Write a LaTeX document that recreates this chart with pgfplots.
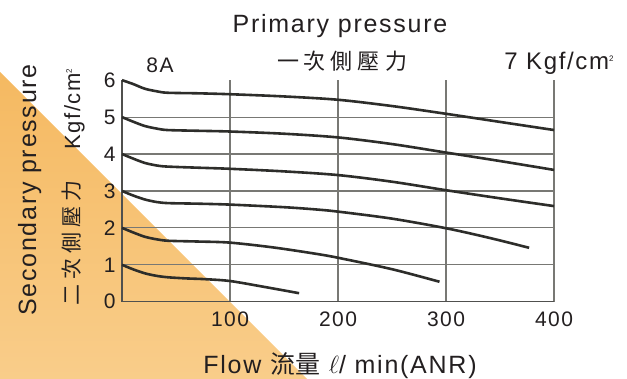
\documentclass[border=0pt]{standalone}
\usepackage{pgfplots}
\pgfplotsset{compat=1.18}
\usepackage{fontspec}
\setmainfont[LetterSpace=7]{Liberation Sans}
\newfontfamily\cjk{Noto Sans CJK TC}
\definecolor{curvecol}{RGB}{45,45,42}
\definecolor{gridcol}{RGB}{120,120,116}
\definecolor{axiscol}{RGB}{80,80,78}
\definecolor{textcol}{RGB}{35,31,32}
\definecolor{orangetop}{RGB}{245,185,97}
\definecolor{orangebot}{RGB}{249,205,138}
\tikzset{curve/.style={color=curvecol, line width=2.6pt, smooth, tension=0.5, mark=none}}
\begin{document}
\begin{tikzpicture}
\path[use as bounding box] (0pt,0pt) rectangle (627pt,379pt);
\shade[top color=orangetop, bottom color=orangebot] (0pt,307pt) -- (0pt,0pt) -- (307pt,0pt) -- cycle;
\begin{axis}[
  at={(122pt,77.3pt)}, anchor=south west,
  scale only axis, width=432pt, height=221.5pt,
  xmin=0, xmax=400, ymin=0, ymax=6,
  axis x line*=bottom, axis y line*=left,
  axis line style={-, line width=1.6pt, color=axiscol},
  xtick={100,200,300,400},
  ytick={1,2,3,4,5}, extra y ticks={0,6}, extra y tick style={grid=none},
  grid=major, grid style={line width=1.2pt, color=gridcol},
  major tick length=0pt,
  tick label style={font=\fontsize{21}{21}\selectfont, text=textcol},
  /pgf/number format/assume math mode=true,
  yticklabel style={xshift=-3pt},
  xticklabel style={yshift=-7pt},
  clip=false,
]
\addplot[curve] coordinates {(0,6) (10,5.9) (21,5.77) (32,5.7) (42,5.66) (70,5.645) (100,5.62) (150,5.56) (200,5.47) (250,5.3) (300,5.09) (350,4.87) (400,4.65)};
\addplot[curve] coordinates {(0,5) (10,4.88) (21,4.76) (32,4.69) (42,4.65) (70,4.63) (100,4.61) (150,4.55) (200,4.45) (250,4.27) (300,4.04) (350,3.81) (400,3.57)};
\addplot[curve] coordinates {(0,4) (10,3.88) (21,3.76) (32,3.69) (42,3.66) (70,3.63) (100,3.60) (150,3.53) (200,3.43) (250,3.25) (300,3.02) (350,2.8) (400,2.59)};
\addplot[curve] coordinates {(0,3) (10,2.88) (21,2.77) (32,2.70) (43,2.67) (70,2.655) (100,2.63) (150,2.56) (179,2.50) (200,2.44) (250,2.25) (300,1.99) (340,1.73) (377,1.46)};
\addplot[curve] coordinates {(0,2) (10,1.88) (21,1.76) (32,1.69) (43,1.65) (70,1.63) (100,1.60) (140,1.47) (179,1.30) (200,1.19) (250,0.88) (294,0.54)};
\addplot[curve] coordinates {(0,1) (10,0.88) (21,0.77) (32,0.70) (43,0.66) (60,0.63) (77,0.61) (100,0.56) (130,0.41) (164,0.23)};
\end{axis}
\node[anchor=base, text=textcol, font=\fontsize{25}{25}\selectfont] at (340pt,346pt) {Primary pressure};
\node[anchor=center, text=textcol, font=\cjk\fontsize{22}{22}\selectfont] at (342pt,318pt) {一\hspace{5pt}次\hspace{5pt}側\hspace{5pt}壓\hspace{5pt}力};
\node[anchor=base, text=textcol, font=\fontsize{21}{21}\selectfont] at (160pt,306pt) {8A};
\node[anchor=base, text=textcol, font=\fontsize{24}{24}\selectfont] at (559pt,309pt) {7 Kgf/cm\raisebox{0.7ex}{\fontsize{8}{8}\selectfont 2}};
\node[anchor=base, rotate=90, text=textcol, font=\fontsize{25}{25}\selectfont] at (36pt,189pt) {Secondary pressure};
\node[anchor=base, rotate=90, text=textcol, font=\fontsize{22}{22}\selectfont] at (80pt,270pt) {Kgf/cm\raisebox{0.7ex}{\fontsize{8}{8}\selectfont 2}};
\node[anchor=center, rotate=90, text=textcol, font=\cjk\fontsize{21}{21}\selectfont] at (72pt,136pt) {二\hspace{5pt}次\hspace{5pt}側\hspace{5pt}壓\hspace{5pt}力};
\node[anchor=base, text=textcol, font=\fontsize{25}{25}\selectfont] at (340pt,5pt) {Flow {\cjk 流量} $\ell$/ min(ANR)};
\end{tikzpicture}
\end{document}
